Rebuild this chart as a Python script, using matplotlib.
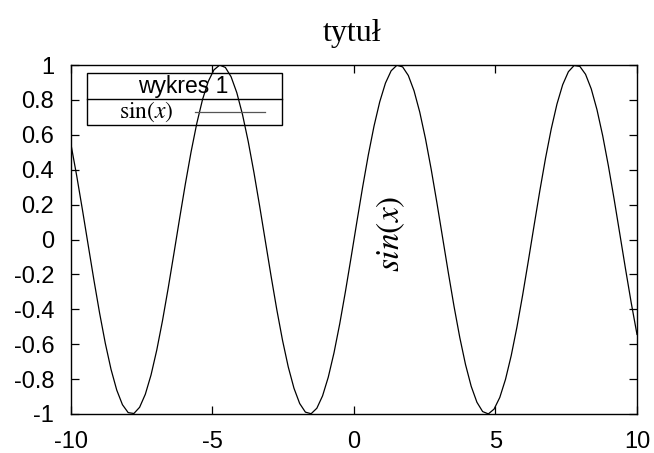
import numpy as np
import matplotlib
matplotlib.use("Agg")
import matplotlib.pyplot as plt
from matplotlib.patches import Rectangle
from matplotlib.lines import Line2D

# --- data ---
x_min, x_max = -10, 10
n_samples = 100
x_values = np.linspace(x_min, x_max, n_samples)
y_values = np.sin(x_values)
x_ticks = [-10, -5, 0, 5, 10]
y_ticks = [-1, -0.8, -0.6, -0.4, -0.2, 0, 0.2, 0.4, 0.6, 0.8, 1]
y_tick_labels = ["-1", "-0.8", "-0.6", "-0.4", "-0.2", "0", "0.2", "0.4", "0.6", "0.8", "1"]
title_text = "tytuł"
legend_title = "wykres 1"
series_label = r"$\mathrm{sin}(x)$"
rotated_label = r"$sin(x)$"

plt.rcParams['mathtext.fontset'] = 'stix'
plt.rcParams['font.family'] = ['Liberation Sans', 'DejaVu Sans']

W, H = 654, 453
fig = plt.figure(figsize=(W / 100, H / 100), dpi=100)
left, right, top, bottom = 71, 637, 65, 414
ax = fig.add_axes([left / W, 1 - bottom / H, (right - left) / W, (bottom - top) / H])

ax.plot(x_values, y_values, color='black', lw=0.9)
ax.set_xlim(x_min, x_max)
ax.set_ylim(-1, 1)
ax.set_xticks(x_ticks)
ax.set_xticklabels([str(t) for t in x_ticks])
ax.set_yticks(y_ticks)
ax.set_yticklabels(y_tick_labels)
ax.tick_params(direction='in', length=6, width=0.9, top=True, right=True,
               labelsize=17, colors='black')
ax.tick_params(axis='x', pad=12)
ax.tick_params(axis='y', pad=12)
for s in ax.spines.values():
    s.set_linewidth(1.0)

fig.text(352 / W, 1 - 34 / H, title_text, ha='center', va='center',
         fontsize=23, family='Liberation Serif')

# rotated label in data coords
ax.text(1.29, 0.03, rotated_label, rotation=90, ha='center', va='center', fontsize=24)

# legend box (pixel based, figure coords)
lx0, lx1, ly0, ymid, ly1 = 87, 282, 73, 99, 125
def fx(p): return p / W
def fy(p): return 1 - p / H
fig.add_artist(Rectangle((fx(lx0), fy(ly1)), fx(lx1) - fx(lx0), fy(ly0) - fy(ly1),
                         transform=fig.transFigure, fill=False, edgecolor='black', lw=1.0))
fig.add_artist(Line2D([fx(lx0), fx(lx1)], [fy(ymid), fy(ymid)],
                      transform=fig.transFigure, color='black', lw=1.0))
fig.text(fx(183), fy((ly0 + ymid) / 2 + 1), legend_title, ha='center', va='center', fontsize=16.5)
fig.text(fx(146), fy((ymid + ly1) / 2), series_label, ha='center', va='center', fontsize=17)
fig.add_artist(Line2D([fx(195), fx(265)], [fy(112), fy(112)],
                      transform=fig.transFigure, color='#555555', lw=0.9))

fig.savefig("out.png", dpi=100)
